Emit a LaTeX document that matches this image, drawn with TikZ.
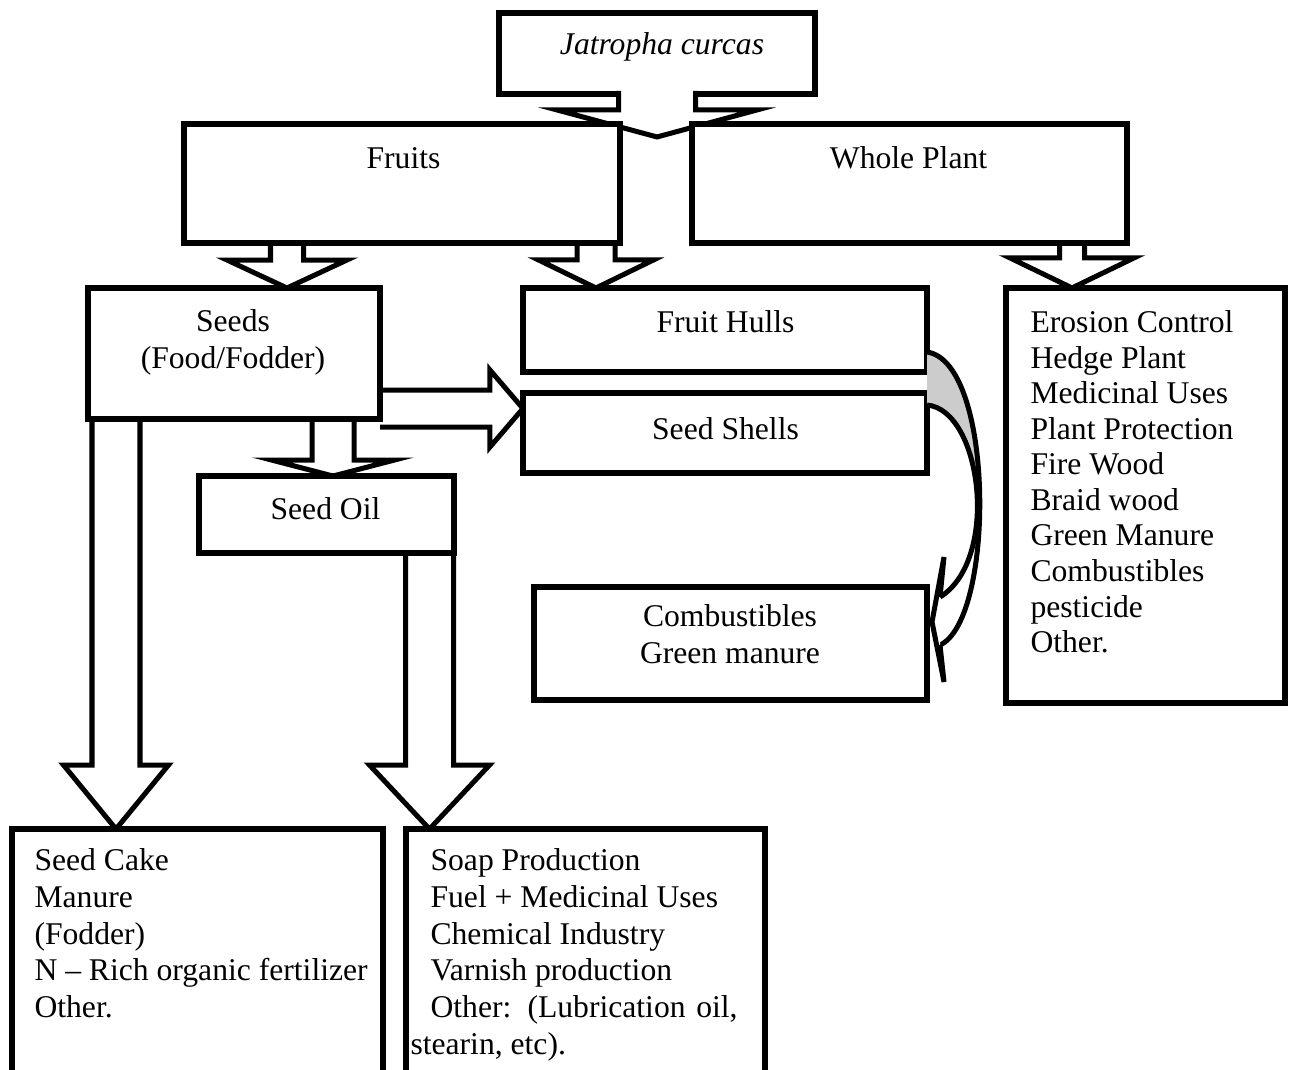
\documentclass[tikz,border=0pt]{standalone}
\usepackage{fontspec}
\setmainfont{Liberation Serif}
\usetikzlibrary{calc,backgrounds}

\tikzset{
  box/.style={draw, fill=white, line width=2.2pt, inner sep=0pt, outer sep=0pt},
  blockarr/.style={draw, fill=white, line width=1.9pt, line join=miter},
  lbl/.style={inner sep=0pt, font=\fontsize{12}{14}\selectfont},
}

% block arrow downwards: source, tip, stem half width, head half width, head length
\newcommand{\dnblock}[5]{%
  \draw[blockarr] ($(#1 -| #2)+(-#3,0)$) -- ($(#2)+(-#3,-#5)$) -- ($(#2)+(-#4,-#5)$)
    -- (#2) -- ($(#2)+(#4,-#5)$) -- ($(#2)+(#3,-#5)$) -- ($(#1 -| #2)+(#3,0)$);}
% block arrow to the right
\newcommand{\rtblock}[5]{%
  \draw[blockarr] ($(#1 |- #2)+(0,-#3)$) -- ($(#2)+(-#5,-#3)$) -- ($(#2)+(-#5,-#4)$)
    -- (#2) -- ($(#2)+(-#5,#4)$) -- ($(#2)+(-#5,#3)$) -- ($(#1 |- #2)+(0,#3)$);}

\begin{document}
\begin{tikzpicture}[x=0.3794pt,y=-0.3794pt]
  \useasboundingbox (0,0) rectangle (1295,1069);

  % top box and its split arrow
  \node[box, minimum width=119.9pt, minimum height=30.7pt] (jc) at (657,53.5) {};
  \node[lbl, anchor=base] (jclbl) at (662,54) {\textit{Jatropha curcas}};
  \coordinate (jcout) at ($(jc.south)+(0,-3)$);
  \coordinate (split) at ($(jc.south)+(0,43)$);
  \dnblock{jcout}{split}{38.5}{100}{27}

  % boxes
  \node[box, minimum width=165.4pt, minimum height=45.1pt] (fruits) at (402,183.5) {};
  \node[box, minimum width=165.0pt, minimum height=45.1pt] (whole) at (909.5,183.5) {};
  \node[box, minimum width=110.8pt, minimum height=49.7pt] (seeds) at (234,353.5) {};
  \node[box, minimum width=153.3pt, minimum height=31.9pt] (hulls) at (725,330) {};
  \node[box, minimum width=153.3pt, minimum height=30.4pt] (shells) at (725,433) {};
  \node[box, minimum width=96.7pt, minimum height=29.2pt] (oil) at (326.5,514.5) {};
  \node[box, minimum width=149.1pt, minimum height=42.9pt] (comb) at (730.5,643.5) {};
  \node[box, minimum width=105.9pt, minimum height=157.5pt] (uses) at (1145.5,495.5) {};
  \node[box, minimum width=140.8pt, minimum height=97.1pt] (cake) at (197.5,957) {};
  \node[box, minimum width=136.2pt, minimum height=97.1pt] (soap) at (585.5,957) {};

  % texts
  \node[lbl, anchor=base] (fruitslbl) at (403.5,168) {Fruits};
  \node[lbl, anchor=base] (wholelbl) at (908.5,168) {Whole Plant};
  \node[lbl, anchor=north, align=center] (seedslbl) at (233,309.5) {Seeds\\(Food/Fodder)};
  \node[lbl, anchor=base] (hullslbl) at (725.5,332) {Fruit Hulls};
  \node[lbl, anchor=base] (shellslbl) at (725.5,439) {Seed Shells};
  \node[lbl, anchor=base] (oillbl) at (325.5,519) {Seed Oil};
  \node[lbl, anchor=north, align=center] (comblbl) at (730,604.5) {Combustibles\\Green manure};
  \node[lbl, anchor=north west, align=left, font=\fontsize{12}{13.5}\selectfont] (useslbl) at (1030,310)
    {Erosion Control\\Hedge Plant\\Medicinal Uses\\Plant Protection\\Fire Wood\\Braid wood\\Green Manure\\Combustibles\\pesticide\\Other.};
  \node[lbl, anchor=north west, align=left, font=\fontsize{12}{13.9}\selectfont] (cakelbl) at (34,848.5)
    {Seed Cake\\Manure\\(Fodder)\\N – Rich organic fertilizer\\Other.};
  \node[lbl, anchor=north west, align=left, font=\fontsize{12}{13.9}\selectfont] (soaplbl) at (410,848.5)
    {\hspace*{7.6pt}Soap Production\\\hspace*{7.6pt}Fuel + Medicinal Uses\\\hspace*{7.6pt}Chemical Industry\\\hspace*{7.6pt}Varnish production\\\hspace*{7.6pt}\makebox[116.5pt][s]{Other: (Lubrication oil,}\\stearin, etc).};

  % block arrows behind the boxes
  \begin{scope}[on background layer]
    \coordinate (seedsin) at ($(seeds.north)+(53,0)$);
    \coordinate (hullsin) at ($(hulls.north)+(-129,0)$);
    \coordinate (usesin) at ($(uses.north)+(-73.5,0)$);
    \coordinate (oilin) at ($(oil.north)+(6.5,0)$);
    \coordinate (cakein) at ($(cake.north)+(-81.5,0)$);
    \coordinate (soapin) at ($(soap.north)+(-156,0)$);
    \coordinate (shellsin) at ($(shells.west)+(0,-24.5)$);
    \dnblock{fruits.south}{seedsin}{16.5}{60}{28}
    \dnblock{fruits.south}{hullsin}{19}{57.5}{28}
    \dnblock{whole.south}{usesin}{12.5}{62}{30}
    \dnblock{seeds.south}{oilin}{21}{61.5}{16}
    \dnblock{seeds.south}{cakein}{24}{52.5}{64}
    \dnblock{oil.south}{soapin}{24}{60}{64}
    \rtblock{seeds.east}{shellsin}{18.5}{38.5}{33}
  \end{scope}

  % curved arrow from hulls and shells to combustibles
  \coordinate (hullout) at ($(hulls.east)+(0,22)$);
  \coordinate (shellout) at ($(shells.east)+(0,-28)$);
  \coordinate (combin) at ($(comb.east)+(13,-46.5)$);
  \coordinate (combout) at ($(comb.east)+(13,1.5)$);
  \begin{scope}
    \clip (hullout) rectangle ($(comb.east)+(80,-155)$);
    \fill[gray!40] (hullout) .. controls +(68,10) and +(55,-25) .. (combout) -- (combin)
      .. controls +(60,-37) and +(55,5) .. (shellout) -- cycle;
  \end{scope}
  \draw[line width=1.9pt] (hullout) .. controls +(68,10) and +(55,-25) .. (combout);
  \draw[line width=1.9pt] (shellout) .. controls +(55,5) and +(60,-37) .. (combin);
  \draw[blockarr] (combin) -- ($(comb.east)+(17,-86.5)$) -- ($(comb.east)+(5,-21.5)$)
    -- ($(comb.east)+(17,38.5)$) -- (combout);
\end{tikzpicture}
\end{document}
